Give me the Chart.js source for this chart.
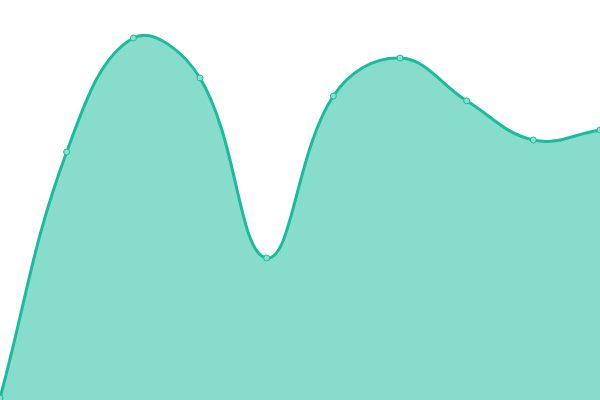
<!DOCTYPE html>
<html>
<head>
<meta charset="utf-8">
<script src="https://cdn.jsdelivr.net/npm/chart.js@4"></script>
<style>
	html, body { margin: 0; padding: 0; background: #fff; }
	#wrap { width: 600px; height: 400px; }
</style>
</head>
<body>
<div id="wrap"><canvas id="dataChart"></canvas></div>
<script>
const labels = ['1', '2', '3', '4', '5', '6', '7', '8', '9', '10'];
const values = [0.5, 62, 90.5, 80.5, 35.5, 76, 85.5, 74.8, 65, 67.5];

const ctx = document.getElementById('dataChart').getContext('2d');

new Chart(ctx, {
	type: 'line',
	data: {
		labels: labels,
		datasets: [{
			data: values,
			fill: true,
			backgroundColor: 'rgba(26, 188, 156, 0.52)',
			borderColor: 'rgb(26, 188, 156)',
			borderWidth: 3,
			tension: 0.4,
			pointRadius: 3,
			pointBorderWidth: 1,
			pointBackgroundColor: 'rgb(137, 224, 207)',
			pointBorderColor: 'rgb(26, 188, 156)'
		}]
	},
	options: {
		responsive: true,
		maintainAspectRatio: false,
		animation: false,
		layout: { padding: 0, autoPadding: false },
		plugins: {
			legend: { display: false },
			tooltip: { enabled: false }
		},
		scales: {
			x: { display: false },
			y: { display: false, min: 0, max: 100 }
		}
	}
});
</script>
</body>
</html>
